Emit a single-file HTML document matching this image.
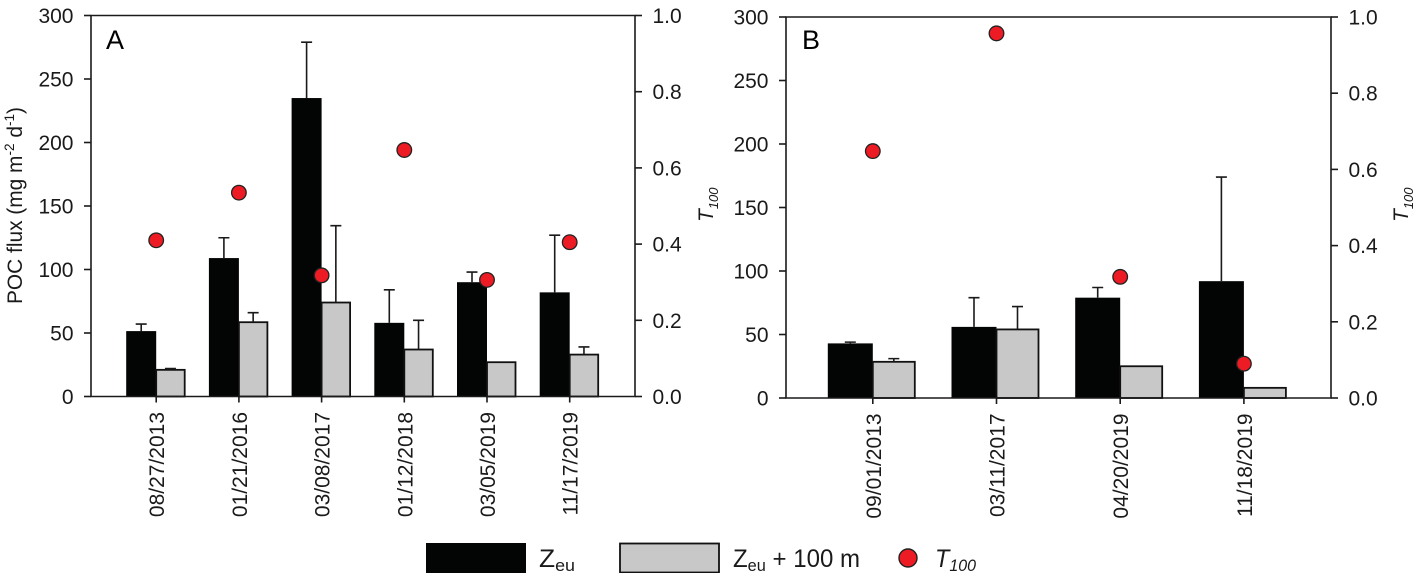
<!DOCTYPE html>
<html lang="en">
<head>
<meta charset="utf-8">
<title>POC flux and T100</title>
<style>
html,body{margin:0;padding:0;background:#fff;width:1417px;height:573px;overflow:hidden}
svg{display:block;font-family:"Liberation Sans",sans-serif;fill:#1a1a1a;filter:blur(0.35px)}
</style>
</head>
<body>
<svg id="chart" xmlns="http://www.w3.org/2000/svg" width="1417" height="573" viewBox="0 0 1417 573">
  <g id="panel-a"></g>
  <g id="panel-b"></g>

  <text x="106" y="49" font-size="27" fill="#000">A</text>
  <text x="802" y="49" font-size="27" fill="#000">B</text>

  <text transform="translate(22,304) rotate(-90)" font-size="21.5" textLength="197" lengthAdjust="spacingAndGlyphs">POC flux (mg m<tspan font-size="14" dy="-8">-2</tspan><tspan dy="8"> d</tspan><tspan font-size="14" dy="-8">-1</tspan><tspan dy="8">)</tspan></text>

  <text transform="translate(713,222) rotate(-90)" font-size="21" font-style="italic">T<tspan font-size="13" dy="5">100</tspan></text>
  <text transform="translate(1408,222) rotate(-90)" font-size="21" font-style="italic">T<tspan font-size="13" dy="5">100</tspan></text>

  <g>
    <rect x="426" y="543" width="100" height="30" fill="#030505"/>
    <text x="539" y="567" font-size="25" textLength="36" lengthAdjust="spacingAndGlyphs">Z<tspan font-size="17" dy="4">eu</tspan></text>
    <rect x="620" y="543.5" width="99" height="29" fill="#c8c8c8" stroke="#111" stroke-width="1.8"/>
    <text x="733" y="567" font-size="25" textLength="127" lengthAdjust="spacingAndGlyphs">Z<tspan font-size="17" dy="4">eu</tspan><tspan dy="-4"> + 100 m</tspan></text>
    <circle cx="908" cy="558" r="9" fill="#ed1c24" stroke="#222" stroke-width="1.4"/>
    <text x="935" y="567" font-size="25" font-style="italic" textLength="41" lengthAdjust="spacingAndGlyphs">T<tspan font-size="17" dy="4">100</tspan></text>
  </g>
</svg>

<script>
// Shared tick labels
var fluxTicks = [0, 50, 100, 150, 200, 250, 300];
var t100Ticks = [0.0, 0.2, 0.4, 0.6, 0.8, 1.0];

// Panel A data
var datesA = ['08/27/2013', '01/21/2016', '03/08/2017', '01/12/2018', '03/05/2019', '11/17/2019'];
var zeuA = [51.5, 109, 235, 58, 90, 82];
var zeuErrA = [5.5, 16, 44, 26, 8, 45];
var zeu100A = [21, 58.5, 74, 37, 27, 33];
var zeu100ErrA = [1, 7.5, 60.5, 23, 0, 6];
var t100A = [0.41, 0.535, 0.318, 0.647, 0.306, 0.405];

// Panel B data
var datesB = ['09/01/2013', '03/11/2017', '04/20/2019', '11/18/2019'];
var zeuB = [43, 56, 79, 92];
var zeuErrB = [1, 23, 8, 82];
var zeu100B = [28.5, 54, 25, 8];
var zeu100ErrB = [2.5, 18, 0, 0];
var t100B = [0.648, 0.957, 0.318, 0.09];

var NS = 'http://www.w3.org/2000/svg';
var INK = '#1a1a1a';

function mk(parent, tag, attrs) {
  var node = document.createElementNS(NS, tag);
  for (var k in attrs) node.setAttribute(k, attrs[k]);
  parent.appendChild(node);
  return node;
}

function drawPanel(root, frame, dates, zeu, zeuErr, zeu100, zeu100Err, t100) {
  function yFlux(v) { return frame.bottom - (v / 300) * (frame.bottom - frame.top); }
  function yT(v) { return frame.bottom - v * (frame.bottom - frame.top); }
  function xCat(i) { return frame.firstCenter + i * frame.step; }

  dates.forEach(function (d, i) {
    var c = xCat(i);

    var blackBar = mk(root, 'rect', {x: c - frame.barW, y: yFlux(zeu[i]), width: frame.barW, height: frame.bottom - yFlux(zeu[i]), fill: '#030505'});
    
    

    var greyBar = mk(root, 'rect', {x: c, y: yFlux(zeu100[i]), width: frame.greyW, height: frame.bottom - yFlux(zeu100[i]), fill: '#c8c8c8', stroke: '#111', 'stroke-width': 1.8});
    
    

    var cxBlack = c - frame.barW / 2;
    var topBlack = yFlux(zeu[i] + zeuErr[i]);
    var errBlack = mk(root, 'path', {d: 'M' + cxBlack + ' ' + yFlux(zeu[i]) + 'V' + topBlack + 'M' + (cxBlack - 5.5) + ' ' + topBlack + 'H' + (cxBlack + 5.5), stroke: INK, 'stroke-width': 1.6, fill: 'none'});
    
    

    if (zeu100Err[i] > 0) {
      var cxGrey = c + frame.greyW / 2;
      var topGrey = yFlux(zeu100[i] + zeu100Err[i]);
      var errGrey = mk(root, 'path', {d: 'M' + cxGrey + ' ' + yFlux(zeu100[i]) + 'V' + topGrey + 'M' + (cxGrey - 5.5) + ' ' + topGrey + 'H' + (cxGrey + 5.5), stroke: INK, 'stroke-width': 1.6, fill: 'none'});
      
      
    }
  });

  var frameLine = mk(root, 'path', {d: 'M' + frame.left + ' ' + frame.bottom + 'V' + frame.top + 'H' + frame.right + 'V' + frame.bottom + 'Z', fill: 'none', stroke: INK, 'stroke-width': 1.6});
  
  

  fluxTicks.forEach(function (t) {
    var y = yFlux(t);
    var tick = mk(root, 'line', {x1: frame.left - 7, x2: frame.left, y1: y, y2: y, stroke: INK, 'stroke-width': 1.6});
    
    
    var label = mk(root, 'text', {x: frame.left - 17.5, y: y + 7.5, 'font-size': 21, 'text-anchor': 'end'});
    
    
    label.textContent = String(t);
  });

  t100Ticks.forEach(function (t) {
    var y = yT(t);
    var tick = mk(root, 'line', {x1: frame.right, x2: frame.right + 7, y1: y, y2: y, stroke: INK, 'stroke-width': 1.6});
    
    
    var label = mk(root, 'text', {x: frame.right + 17.5, y: y + 7.5, 'font-size': 21});
    
    
    label.textContent = t.toFixed(1);
  });

  dates.forEach(function (d, i) {
    var c = xCat(i);
    var tick = mk(root, 'line', {x1: c, x2: c, y1: frame.bottom, y2: frame.bottom + 6, stroke: INK, 'stroke-width': 1.6});
    
    
    var label = mk(root, 'text', {transform: 'translate(' + (c + 8) + ',' + (frame.bottom + 15.5) + ') rotate(-90)', 'font-size': 21, 'text-anchor': 'end'});
    
    
    label.textContent = d;
  });

  dates.forEach(function (d, i) {
    var dot = mk(root, 'circle', {cx: xCat(i), cy: yT(t100[i]), r: 7.3, fill: '#ed1c24', stroke: '#222', 'stroke-width': 1.3});
    
    
  });
}

drawPanel(document.getElementById('panel-a'),
  {left: 91, right: 635, top: 15.5, bottom: 396.5, firstCenter: 156.2, step: 82.7, barW: 30, greyW: 28.5},
  datesA, zeuA, zeuErrA, zeu100A, zeu100ErrA, t100A);

drawPanel(document.getElementById('panel-b'),
  {left: 786, right: 1331, top: 17, bottom: 398, firstCenter: 872.8, step: 123.7, barW: 45, greyW: 42},
  datesB, zeuB, zeuErrB, zeu100B, zeu100ErrB, t100B);
</script>
</body>
</html>
